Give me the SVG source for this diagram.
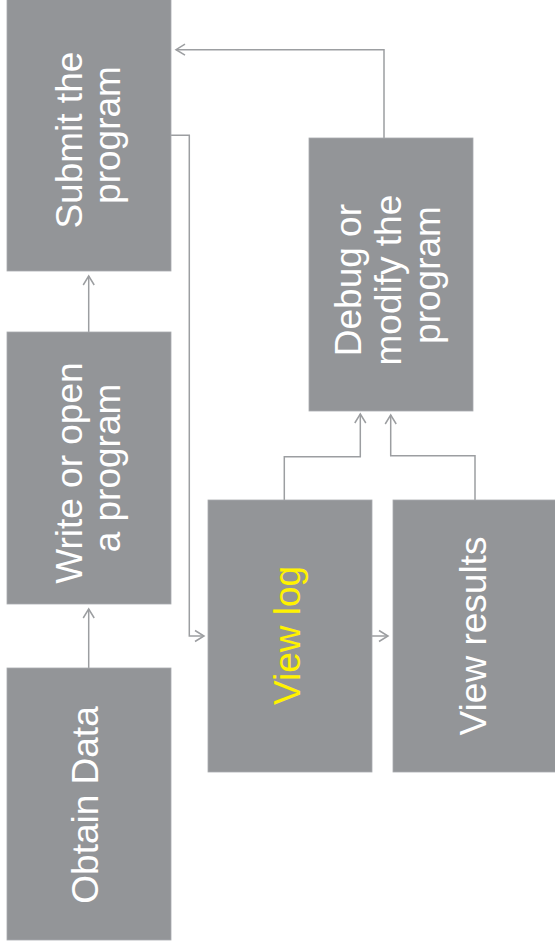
<svg xmlns="http://www.w3.org/2000/svg" width="555" height="942" viewBox="0 0 555 942">
  <style>
    .box { fill: #939598; stroke: #a9abae; stroke-width: 0.8; }
    .label { font-family: "Liberation Sans", Arial, Helvetica, sans-serif; font-size: 37px; fill: #ffffff; text-anchor: middle; }
    .hl { fill: #fff200; }
    .link { fill: none; stroke: #9c9ea1; stroke-width: 1.5; marker-end: url(#arrow); }
  </style>
  <defs>
    <marker id="arrow" markerUnits="userSpaceOnUse" markerWidth="14" markerHeight="14" viewBox="-11 -7 14 14" refX="0" refY="0" orient="auto">
      <path d="M-9,-5.5 L0,0 L-9,5.5" fill="none" stroke="#9c9ea1" stroke-width="1.5"/>
    </marker>
  </defs>

  <rect width="555" height="942" fill="#ffffff"/>

  <!-- connectors -->
  <g id="connectors">
    <path class="link" d="M88.7,668 L88.7,609"/>
    <path class="link" d="M88.7,332 L88.7,276"/>
    <path class="link" d="M171,135.3 L189.3,135.3 L189.3,636 L204,636"/>
    <path class="link" d="M372,636 L388,636"/>
    <path class="link" d="M284.3,500 L284.3,456.7 L360.3,456.7 L360.3,414"/>
    <path class="link" d="M475,500 L475,455.7 L390.7,455.7 L390.7,415"/>
    <path class="link" d="M384,138 L384,49.7 L176,49.7"/>
  </g>

  <!-- nodes -->
  <g id="submit">
    <rect class="box" x="7" y="-1" width="164" height="272"/>
    <text class="label" transform="translate(81.7,135) rotate(-90)">
      <tspan x="0" y="0">Submit the</tspan>
      <tspan x="0" y="38.5">program</tspan>
    </text>
  </g>

  <g id="write">
    <rect class="box" x="7" y="332" width="164" height="272"/>
    <text class="label" transform="translate(81.7,468) rotate(-90)">
      <tspan x="0" y="0">Write or open</tspan>
      <tspan x="0" y="38.5">a program</tspan>
    </text>
  </g>

  <g id="obtain">
    <rect class="box" x="7" y="668" width="164" height="272"/>
    <text class="label" transform="translate(98,805) rotate(-90)">Obtain Data</text>
  </g>

  <g id="debug">
    <rect class="box" x="309" y="138" width="164" height="273"/>
    <text class="label" transform="translate(361,275) rotate(-90)">
      <tspan x="0" y="0">Debug or</tspan>
      <tspan x="0" y="39.5">modify the</tspan>
      <tspan x="0" y="79">program</tspan>
    </text>
  </g>

  <g id="viewlog">
    <rect class="box" x="208" y="500" width="164" height="272"/>
    <text class="label hl" transform="translate(299.5,635.5) rotate(-90)">View log</text>
  </g>

  <g id="viewresults">
    <rect class="box" x="393" y="500" width="163" height="272"/>
    <text class="label" transform="translate(485.5,636) rotate(-90)">View results</text>
  </g>
</svg>
